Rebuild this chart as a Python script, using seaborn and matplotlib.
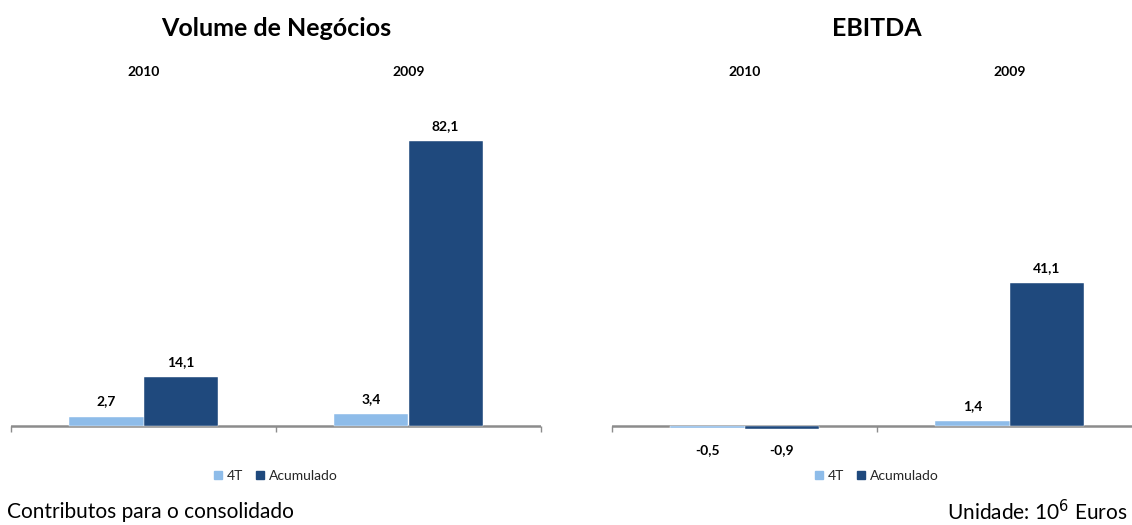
import matplotlib
matplotlib.use("Agg")
import matplotlib.pyplot as plt
import seaborn as sns
import pandas as pd

# Data (10^6 Euros)
years = ["2010", "2009"]
series = ["4T", "Acumulado"]
volume_4t = [2.7, 3.4]
volume_acum = [14.1, 82.1]
ebitda_4t = [-0.5, 1.4]
ebitda_acum = [-0.9, 41.1]

colors = {"4T": "#8EBCE9", "Acumulado": "#1F497D"}

sns.set_theme(style="white")
plt.rcParams["font.family"] = ["Lato", "DejaVu Sans"]

W, H = 1132, 525
fig = plt.figure(figsize=(W / 100, H / 100), dpi=100)


def long_frame(v4t, vacum):
    rows = []
    for y, a, b in zip(years, v4t, vacum):
        rows.append({"ano": y, "serie": "4T", "valor": a})
        rows.append({"ano": y, "serie": "Acumulado", "valor": b})
    return pd.DataFrame(rows)


def px_axes(left_px, width_px, top_px, bottom_px):
    return fig.add_axes([left_px / W, 1 - bottom_px / H, width_px / W, (bottom_px - top_px) / H])


def draw_panel(ax, df, title, title_x):
    sns.barplot(data=df, x="ano", y="valor", hue="serie", order=years,
                hue_order=series, palette=colors, saturation=1, width=0.56, gap=0,
                edgecolor="white", linewidth=0.3, ax=ax, legend=False, zorder=2)
    ax.set_xlim(-0.5, 1.5)
    ax.set_ylim(-4.0, 105.5)
    ax.set_xlabel("")
    ax.set_ylabel("")
    ax.set_yticks([])
    ax.set_xticks([-0.5, 0.5, 1.5])
    ax.set_xticklabels([])
    ax.tick_params(axis="x", which="both", direction="out", length=4,
                   width=1, color="#8C8C8C", bottom=True)
    for s in ["top", "right", "left", "bottom"]:
        ax.spines[s].set_visible(False)
    ax.axhline(0, color="#8C8C8C", lw=1.8, zorder=1)
    ax.spines["bottom"].set_position(("data", 0))

    # value labels
    for cont in ax.containers:
        for rect, v in zip(cont.patches, cont.datavalues):
            xc = rect.get_x() + rect.get_width() / 2
            txt = f"{v:.1f}".replace(".", ",")
            if v >= 0:
                ax.annotate(txt, (xc, v), xytext=(0, 11), textcoords="offset points",
                            ha="center", va="center", fontsize=10, fontweight="bold",
                            color="black")
            else:
                ax.annotate(txt, (xc, 0), xytext=(0, -17), textcoords="offset points",
                            ha="center", va="center", fontsize=10, fontweight="bold",
                            color="black")

    # year labels above the plot area
    for i, y in enumerate(years):
        ax.annotate(y, (i, 1), xycoords=("data", "axes fraction"), xytext=(0, -9),
                    textcoords="offset points", ha="center", va="center",
                    fontsize=10, fontweight="bold", color="black")

    fig.text(title_x / W, 1 - 28 / H, title, ha="center", va="center",
             fontsize=18, fontweight="bold", color="black")

    handles = [plt.Rectangle((0, 0), 1, 1, color=colors[s]) for s in series]
    ax.legend(handles, series, loc="center", bbox_to_anchor=(0.5, -0.095),
              ncol=2, frameon=False, fontsize=10, handlelength=0.55,
              handleheight=0.55, handletextpad=0.4, columnspacing=0.9)


ax1 = px_axes(11, 530, 60, 440)
draw_panel(ax1, long_frame(volume_4t, volume_acum), "Volume de Negócios", 276)

ax2 = px_axes(612, 530, 60, 440)
draw_panel(ax2, long_frame(ebitda_4t, ebitda_acum), "EBITDA", 877)

fig.text(7 / W, 1 - 512 / H, "Contributos para o consolidado", ha="left",
         va="center", fontsize=15, color="black")
fig.text(1127 / W, 1 - 512 / H, r"Unidade: 10$^{6}$ Euros", ha="right",
         va="center", fontsize=15, color="black")

fig.savefig("out.png", dpi=100, facecolor="white")
